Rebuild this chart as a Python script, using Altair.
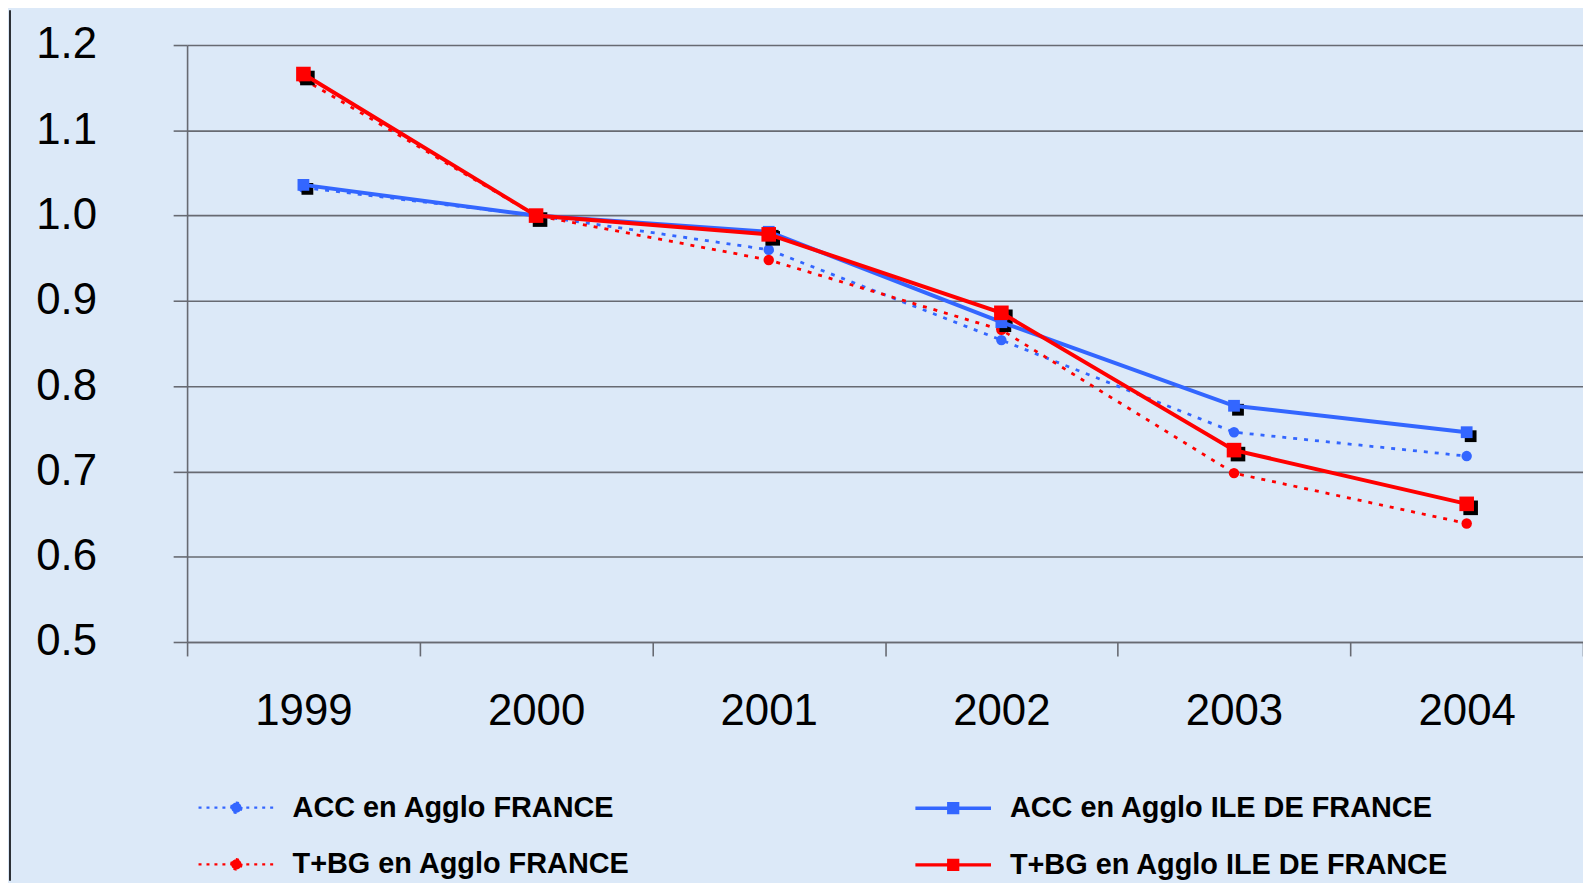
import math
import altair as alt
import pandas as pd

years = ["1999", "2000", "2001", "2002", "2003", "2004"]
acc_france = [1.033, 1.000, 0.960, 0.854, 0.746, 0.718]
acc_idf = [1.036, 1.000, 0.981, 0.875, 0.777, 0.746]
tbg_france = [1.160, 1.000, 0.948, 0.866, 0.698, 0.639]
tbg_idf = [1.166, 1.000, 0.978, 0.886, 0.725, 0.662]

france_names = ["ACC en Agglo FRANCE", "T+BG en Agglo FRANCE"]
idf_names = ["ACC en Agglo ILE DE FRANCE", "T+BG en Agglo ILE DE FRANCE"]
pair_colors = ["#3366ff", "#ff0000"]
y_ticks = [0.5, 0.6, 0.7, 0.8, 0.9, 1.0, 1.1, 1.2]

def frame(names, vals_list):
    rows = []
    for name, vals in zip(names, vals_list):
        for yr, v in zip(years, vals):
            rows.append({"year": yr, "value": v, "series": name})
    return pd.DataFrame(rows)

df_fr = frame(france_names, [acc_france, tbg_france])
df_idf = frame(idf_names, [acc_idf, tbg_idf])

FONT = "Liberation Sans"
GRID = "#676a72"

# legend glyphs: a line segment with a marker in its middle
sq_path = "M-1.9,0H1.9M-0.22,-0.22H0.22V0.22H-0.22Z"
r = 0.26
pts = [(r * math.cos(2 * math.pi * k / 20), r * math.sin(2 * math.pi * k / 20)) for k in range(20)]
ci_path = "M-1.9,0H1.9M" + "L".join(f"{px:.3f},{py:.3f}" for px, py in pts) + "Z"

def make_legend(lx, shape, dash, sw):
    kw = dict(
        orient="none", legendX=lx, legendY=745, direction="vertical",
        rowPadding=20, title=None, labelFont=FONT, labelFontSize=29,
        labelFontWeight="bold", labelColor="black", labelLimit=1000,
        labelOffset=35, symbolSize=1600, symbolType=shape,
        symbolStrokeWidth=sw, symbolOpacity=1,
    )
    if dash:
        kw["symbolDash"] = dash
    return alt.Legend(**kw)

leg_fr = make_legend(28, ci_path, [3, 5], 2.2)
leg_idf = make_legend(748, sq_path, None, 3.5)

x = alt.X(
    "year:N", sort=years, title=None,
    scale=alt.Scale(type="band", paddingInner=0, paddingOuter=0),
    axis=alt.Axis(labelFont=FONT, labelFontSize=44, labelColor="black", labelAngle=0,
                  labelPadding=34, tickBand="extent", tickSize=14, tickColor=GRID,
                  tickWidth=1.6, domainColor=GRID, domainWidth=1.6, grid=False),
)
y = alt.Y(
    "value:Q", title=None,
    scale=alt.Scale(domain=[0.5, 1.2], nice=False, zero=False),
    axis=alt.Axis(values=y_ticks, format=".1f", labelFont=FONT, labelFontSize=44,
                  labelColor="black", labelPadding=77, tickSize=14, tickColor=GRID,
                  tickWidth=1.6, domainColor=GRID, domainWidth=1.6, grid=True,
                  gridColor=GRID, gridWidth=1.6),
)

def stroke_enc(names, leg):
    return alt.Stroke("series:N", scale=alt.Scale(domain=names, range=pair_colors), legend=leg)

def fill_enc(names, leg):
    return alt.Fill("series:N", scale=alt.Scale(domain=names, range=pair_colors), legend=leg)

fr = alt.Chart(df_fr)
dotted = fr.mark_line(strokeWidth=2.8, strokeDash=[4, 7]).encode(x=x, y=y, stroke=stroke_enc(france_names, leg_fr))
circles = fr.mark_point(filled=True, shape="circle", size=110, opacity=1, strokeWidth=0).encode(
    x=x, y=y, fill=fill_enc(france_names, leg_fr))
group_fr = alt.layer(dotted, circles)

idf = alt.Chart(df_idf)
sq_size = alt.condition("indexof(datum.series, 'T+BG') >= 0", alt.value(215), alt.value(140))
shadows = idf.mark_square(filled=True, color="black", opacity=1, xOffset=4, yOffset=4).encode(x=x, y=y, size=sq_size)
solid = idf.mark_line(strokeWidth=4).encode(x=x, y=y, stroke=stroke_enc(idf_names, leg_idf))
squares = idf.mark_square(filled=True, opacity=1, strokeWidth=0).encode(
    x=x, y=y, fill=fill_enc(idf_names, leg_idf), size=sq_size)
group_idf = alt.layer(shadows, solid, squares)

border = alt.Chart(pd.DataFrame({"a": [0]})).mark_rule(color="#2a2d33", strokeWidth=2).encode(
    x=alt.value(-178), y=alt.value(-35), y2=alt.value(840))

chart = alt.layer(border, group_fr, group_idf).resolve_scale(
    stroke="independent", fill="independent"
).properties(
    width=1403, height=600,
    autosize=alt.AutoSizeParams(type="none"),
    padding={"left": 180, "top": 35, "right": 0, "bottom": 240},
    background="#dce9f8",
).configure_view(stroke=None)

chart.save("out.html", embed_options={"renderer": "svg", "actions": False})
